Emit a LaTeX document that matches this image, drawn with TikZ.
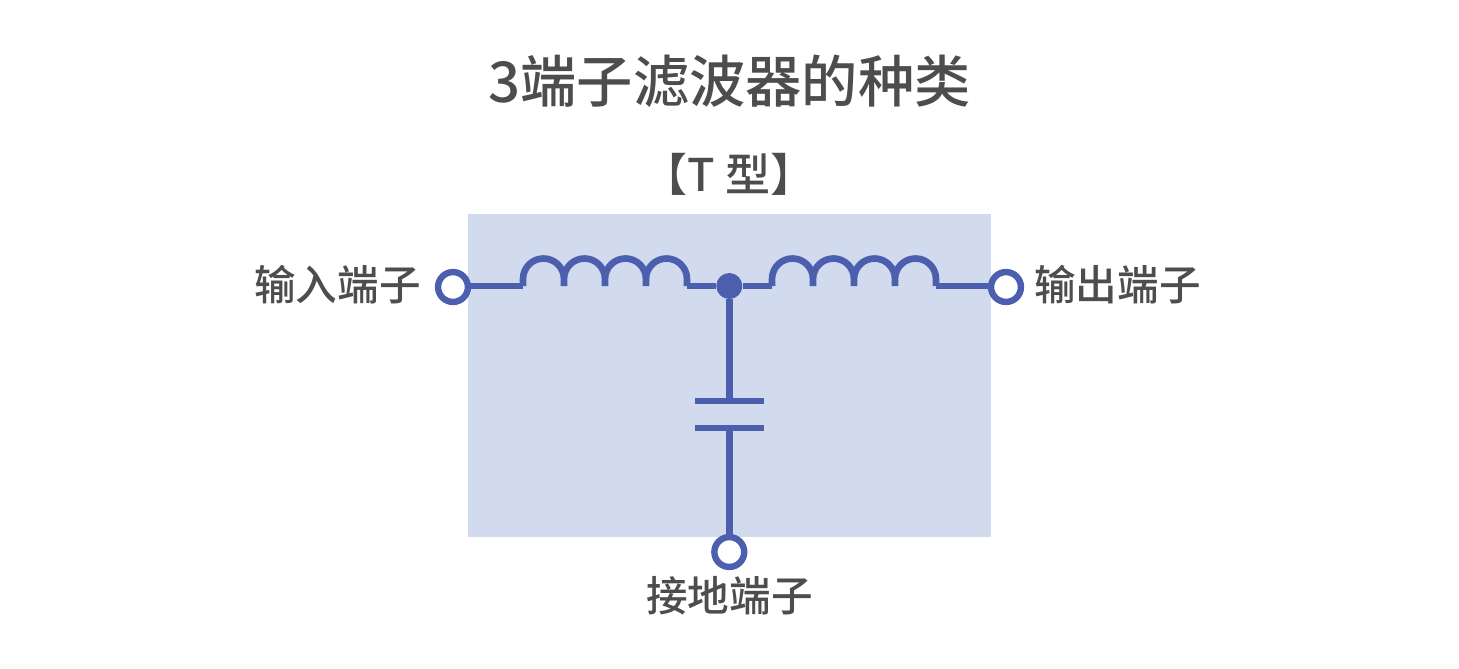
\documentclass[tikz,border=0pt]{standalone}
\usepackage{fontspec}
\setmainfont{Noto Sans CJK SC Medium}
\definecolor{wire}{HTML}{4C5EAE}
\definecolor{panel}{HTML}{D1DBED}
\definecolor{ink}{HTML}{4D4D4D}
\tikzset{
  wireline/.style={draw=wire,line width=5pt},
  terminal/.style={circle,draw=wire,fill=white,line width=4.8pt,minimum size=22.4pt,inner sep=0pt},
  junction/.style={circle,fill=wire,minimum size=19.5pt,inner sep=0pt},
  label/.style={text=ink,font=\fontsize{31.2pt}{34pt}\selectfont,inner sep=0pt},
  heading/.style={text=ink,font=\fontsize{42.2pt}{46pt}\selectfont,inner sep=0pt},
  subheading/.style={text=ink,font=\fontsize{33.8pt}{36pt}\selectfont,inner sep=0pt},
}
\begin{document}
\begin{tikzpicture}[x=0.75pt,y=0.75pt]
\useasboundingbox (0,0) rectangle (1459,-668);
\node[fill=panel,minimum width=392.25pt,minimum height=242.25pt,inner sep=0pt] (panel) at (729.5,-375.5) {};
\node[heading] (title) at (729.5,-81) {3端子滤波器的种类};
\node[subheading] (sub) at (729,-174) {【T 型】};
\coordinate (L1a) at (523,-286);
\coordinate (L1b) at (687,-286);
\coordinate (L2a) at (772,-286);
\coordinate (L2b) at (936,-286);
\coordinate (capTop) at (729.3,-401);
\coordinate (capBot) at (729.3,-428);
\coordinate (capTopL) at (695,-401);
\coordinate (capTopR) at (764,-401);
\coordinate (capBotL) at (695,-428);
\coordinate (capBotR) at (764,-428);
\node[junction] (mid) at (729.3,-286) {};
\node[terminal] (in) at (453,-287) {};
\node[terminal] (out) at (1006,-287) {};
\node[terminal] (gnd) at (729.3,-552) {};
\draw[wireline] (in.east |- L1a) -- (L1a);
\draw[wireline] (L1b) -- (mid);
\draw[wireline] (mid) -- (L2a);
\draw[wireline] (L2b) -- (out.west |- L2b);
\draw[wireline] (mid) -- (capTop);
\draw[wireline] (capBot) -- (gnd.north);
\draw[wireline] (capTopL) -- (capTopR);
\draw[wireline] (capBotL) -- (capBotR);
\draw[wireline,line join=miter] (L1a) -- ++(0,7)
  arc[start angle=180,end angle=0,radius=20.5] -- ++(0,-7) -- ++(0,7)
  arc[start angle=180,end angle=0,radius=20.5] -- ++(0,-7) -- ++(0,7)
  arc[start angle=180,end angle=0,radius=20.5] -- ++(0,-7) -- ++(0,7)
  arc[start angle=180,end angle=0,radius=20.5] -- (L1b);
\draw[wireline,line join=miter] (L2a) -- ++(0,7)
  arc[start angle=180,end angle=0,radius=20.5] -- ++(0,-7) -- ++(0,7)
  arc[start angle=180,end angle=0,radius=20.5] -- ++(0,-7) -- ++(0,7)
  arc[start angle=180,end angle=0,radius=20.5] -- ++(0,-7) -- ++(0,7)
  arc[start angle=180,end angle=0,radius=20.5] -- (L2b);
\node[label,anchor=east] (inlabel) at (421,-285) {输入端子};
\node[label,anchor=west] (outlabel) at (1034,-285) {输出端子};
\node[label] (gndlabel) at (729.5,-596) {接地端子};
\end{tikzpicture}
\end{document}
